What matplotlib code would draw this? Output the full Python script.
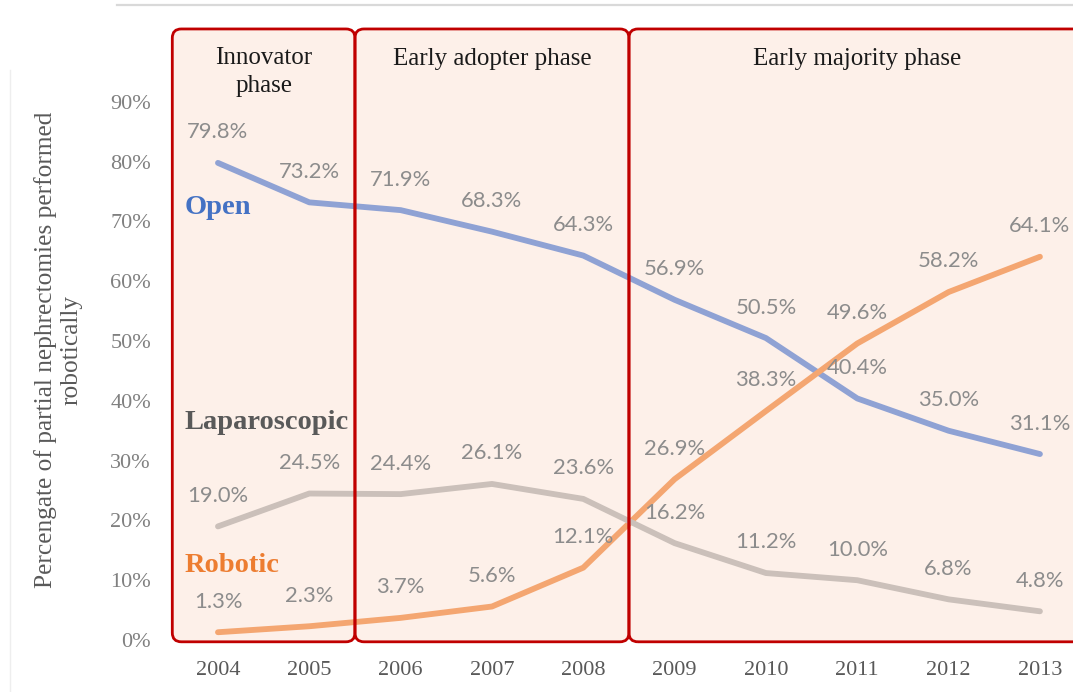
import matplotlib
matplotlib.use('Agg')
import matplotlib.pyplot as plt
from matplotlib.patches import FancyBboxPatch
from matplotlib.lines import Line2D

# data
years = [2004, 2005, 2006, 2007, 2008, 2009, 2010, 2011, 2012, 2013]
open_pct = [79.8, 73.2, 71.9, 68.3, 64.3, 56.9, 50.5, 40.4, 35.0, 31.1]
lap_pct = [19.0, 24.5, 24.4, 26.1, 23.6, 16.2, 11.2, 10.0, 6.8, 4.8]
robot_pct = [1.3, 2.3, 3.7, 5.6, 12.1, 26.9, 38.3, 49.6, 58.2, 64.1]

phase_names = ['Innovator\nphase', 'Early adopter phase', 'Early majority phase']
phase_spans = [(2003.5, 2005.5), (2005.5, 2008.5), (2008.5, 2013.6)]
yticks = [0, 10, 20, 30, 40, 50, 60, 70, 80, 90]

SERIF = 'Liberation Serif'
SANS = 'Lato'

fig = plt.figure(figsize=(10.73, 6.92), dpi=100)
ax = fig.add_axes([0.1519, 0.0665, 0.8481, 0.9046])
ax.set_xlim(2003.398, 2013.362)
ax.set_ylim(-1.0, 103.7)
for s in ax.spines.values():
    s.set_visible(False)

# phase boxes: fill under the lines, red outline over them
px_x = 91.33   # pixels per year
px_y = 5.978   # pixels per percent
r = 9.0 / px_x
for (x0, x1), name in zip(phase_spans, phase_names):
    for fill, z in [(True, 0), (False, 5)]:
        p = FancyBboxPatch((x0, -0.3), x1 - x0, 102.5,
                           boxstyle='round,pad=0,rounding_size=%f' % r,
                           mutation_aspect=(9.0 / px_y) / r,
                           facecolor='#FDF0E9' if fill else 'none',
                           edgecolor='none' if fill else '#C00000',
                           lw=2.0, zorder=z, clip_on=False)
        ax.add_patch(p)
    xm = (x0 + min(x1, 2013.5)) / 2
    if '\n' in name:
        ax.text(xm, 95.0, name, ha='center', va='center', fontsize=18,
                family=SERIF, color='#1a1a1a', linespacing=1.35, zorder=6)
    else:
        ax.text(xm, 97.1, name, ha='center', va='center', fontsize=18,
                family=SERIF, color='#1a1a1a', zorder=6)

series = [
    (open_pct, '#8FA2D4'),
    (robot_pct, '#F4A671'),
    (lap_pct, '#CBC0BA'),
]
for vals, col in series:
    ax.plot(years, vals, color=col, lw=4.2, solid_capstyle='round',
            solid_joinstyle='round', zorder=3)
    for x, v in zip(years, vals):
        ax.annotate('%.1f%%' % v, (x, v), xytext=(0, 22),
                    textcoords='offset points', ha='center', va='center',
                    fontsize=15.8, family=SANS, color='#8C8C8C', zorder=7)

# series names
ax.text(2003.64, 72.3, 'Open', ha='left', va='center', fontsize=20.5,
        family=SERIF, weight='bold', color='#4472C4', zorder=7)
ax.text(2003.63, 36.3, 'Laparoscopic', ha='left', va='center', fontsize=20.5,
        family=SERIF, weight='bold', color='#595959', zorder=7)
ax.text(2003.63, 12.5, 'Robotic', ha='left', va='center', fontsize=20.5,
        family=SERIF, weight='bold', color='#ED7D31', zorder=7)

ax.set_yticks(yticks)
ax.set_yticklabels(['%d%%' % t for t in yticks])
ax.set_xticks(years)
ax.set_xticklabels([str(y) for y in years])
ax.tick_params(axis='y', length=0, pad=8.6, labelsize=16,
               labelcolor='#808080')
ax.tick_params(axis='x', length=0, pad=11, labelsize=16,
               labelcolor='#595959')
for lab in ax.get_xticklabels() + ax.get_yticklabels():
    lab.set_family(SERIF)

ax.set_ylabel('Percengate of partial nephrectomies performed\nrobotically',
              family=SERIF, fontsize=18.3, color='#595959', linespacing=1.15)
ax.yaxis.set_label_coords(-0.089, 0.473)

# thin frame remnants of the original slide
fig.add_artist(Line2D([117 / 1073, 1.0], [1 - 5 / 692, 1 - 5 / 692],
                      color='#D9D9D9', lw=1.6))
fig.add_artist(Line2D([10 / 1073, 10 / 1073], [0, 1 - 70 / 692],
                      color='#EEEEEE', lw=1.0))

fig.savefig('out.png', dpi=100, facecolor='white')
